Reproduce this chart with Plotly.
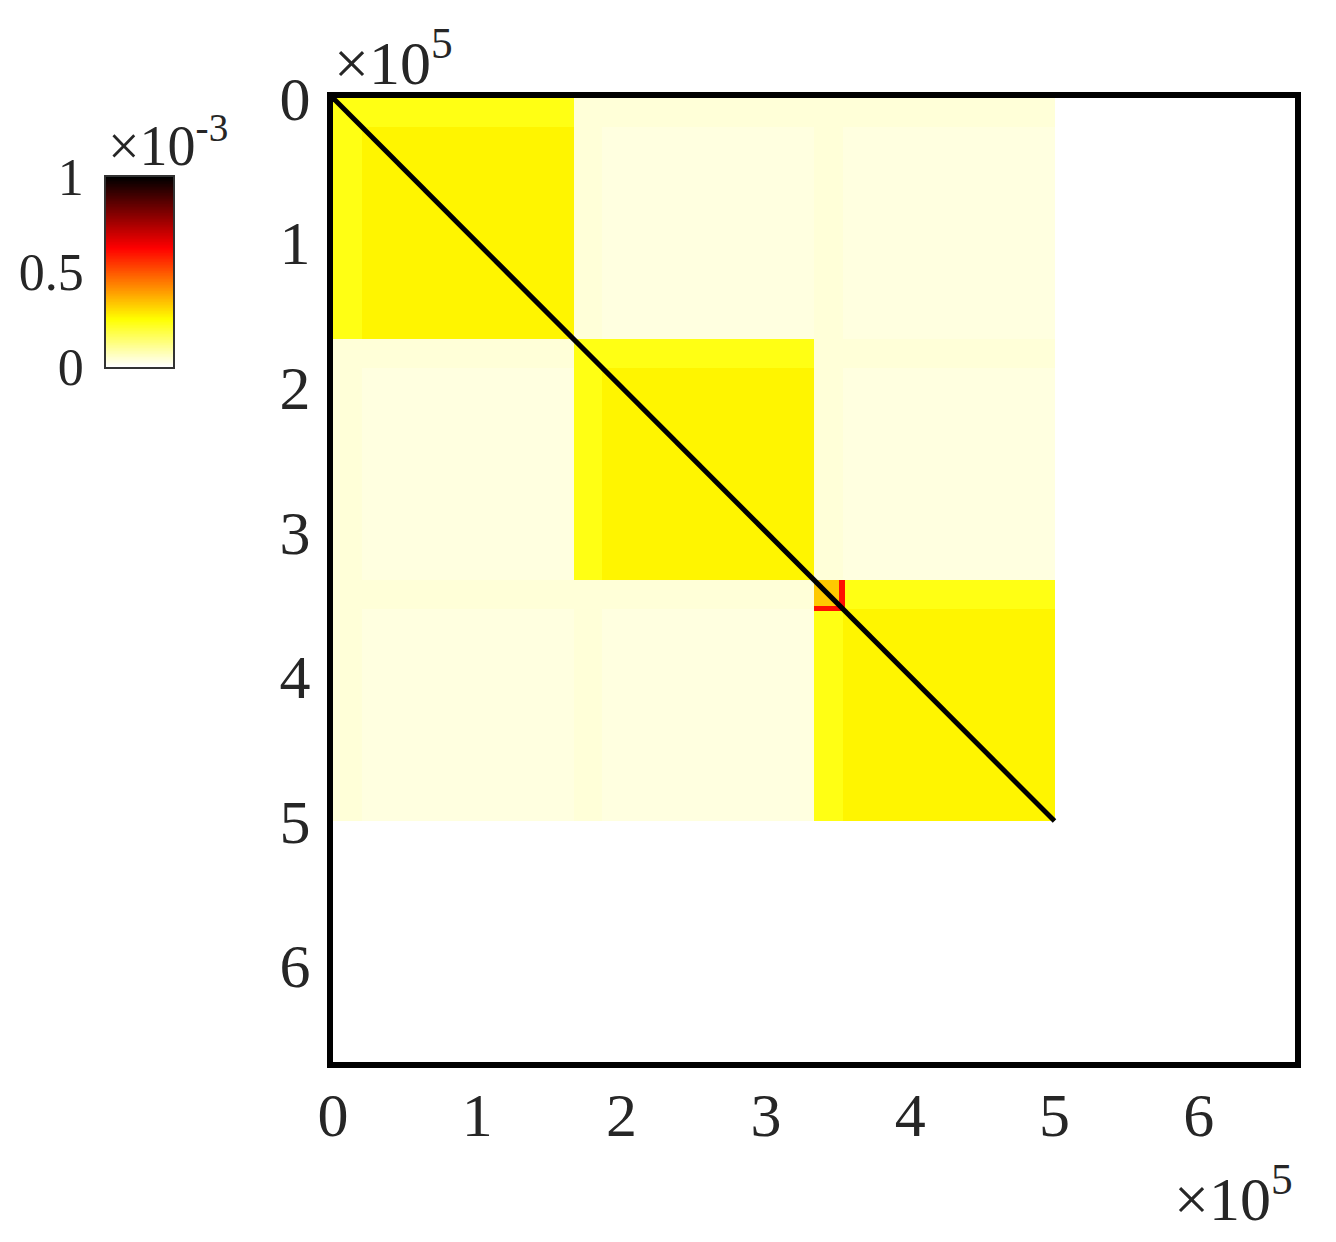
import numpy as np
import plotly.graph_objects as go

# block structure
block_starts = [0, 166667, 333333]
block_end = 500000
strip_w = 20000            # slightly lighter band at the start of every block
corner = [333333, 351000]  # mottled square at the start of block 3
red_band = [351000, 355000]

# levels (same units as the colour bar)
core_val = 0.265e-3
strip_val = 0.23e-3
off_val = 0.03e-3
off_strip_val = 0.038e-3
corner_val = 0.33e-3
red_val = 0.60e-3

diag_x = [0, 500000]
diag_y = [0, 500000]

axis_max = 666667
tick_vals = [0, 1e5, 2e5, 3e5, 4e5, 5e5, 6e5]
tick_text = ["0", "1", "2", "3", "4", "5", "6"]
cbar_vals = [0, 0.5, 1]
cbar_text = ["0", "0.5", "1"]

# build the block matrix on a non-uniform grid
edges = sorted(set(block_starts + [s + strip_w for s in block_starts] + [block_end]
                   + corner + red_band))
edges = np.array(edges, dtype=float)
centers = (edges[:-1] + edges[1:]) / 2
n = len(centers)
z = np.zeros((n, n))
for i, cy in enumerate(centers):
    for j, cx in enumerate(centers):
        by = max(k for k, s in enumerate(block_starts) if cy >= s)
        bx = max(k for k, s in enumerate(block_starts) if cx >= s)
        in_strip = cx < block_starts[bx] + strip_w or cy < block_starts[by] + strip_w
        if bx == by:
            v = strip_val if in_strip else core_val
        else:
            v = off_strip_val if in_strip else off_val
        if corner[0] <= cx < red_band[1] and corner[0] <= cy < red_band[1]:
            if red_band[0] <= cx or red_band[0] <= cy:
                v = red_val
            else:
                v = corner_val
        z[i, j] = v

hot_r = [[0, "rgb(255,255,255)"], [0.25, "rgb(255,255,0)"],
         [0.625, "rgb(255,0,0)"], [1, "rgb(0,0,0)"]]

# page body has an 8px margin, so the figure is a bit smaller than the window
OFF = 8
W, H = 1320, 1226
def px(x): return (x - OFF) / W
def py(y): return 1 - (y - OFF) / H

font = dict(family="Liberation Serif", color="#262626")

fig = go.Figure()
fig.add_trace(go.Heatmap(x=edges, y=edges, z=z, coloraxis="coloraxis",
                         zsmooth=False, hoverinfo="skip"))
fig.add_trace(go.Scatter(x=diag_x, y=diag_y, mode="lines",
                         line=dict(color="black", width=5), hoverinfo="skip"))

# colour bar drawn as its own small axes so labels sit on the left
grad = np.linspace(0, 1, 256)
grad_edges = np.linspace(0, 1, 257)
fig.add_trace(go.Heatmap(x=[0, 1], y=grad_edges,
                         z=(grad * 1e-3).reshape(-1, 1), coloraxis="coloraxis",
                         xaxis="x2", yaxis="y2", zsmooth=False, hoverinfo="skip"))

fig.update_layout(
    width=W, height=H,
    margin=dict(l=0, r=0, t=0, b=0),
    paper_bgcolor="white", plot_bgcolor="white",
    showlegend=False,
    coloraxis=dict(colorscale=hot_r, cmin=0, cmax=1e-3, showscale=False),
    xaxis=dict(domain=[px(333), px(1295)], range=[0, axis_max], automargin=False,
               tickvals=tick_vals, ticktext=tick_text, ticks="",
               showgrid=False, zeroline=False,
               showline=True, mirror=True, linecolor="black", linewidth=6,
               tickfont=dict(size=62, **font), ticklabelstandoff=-6),
    yaxis=dict(domain=[py(1062), py(98)], range=[axis_max, 0], automargin=False,
               tickvals=tick_vals, ticktext=tick_text, ticks="",
               showgrid=False, zeroline=False,
               showline=True, mirror=True, linecolor="black", linewidth=6,
               tickfont=dict(size=62, **font), ticklabelstandoff=4),
    xaxis2=dict(domain=[px(106), px(173)], range=[0, 1], anchor="y2", automargin=False,
                showticklabels=False, ticks="", showgrid=False, zeroline=False,
                showline=True, mirror=True, linecolor="#333333", linewidth=1.5),
    yaxis2=dict(domain=[py(367), py(177)], range=[0, 1], anchor="x2", automargin=False,
                tickvals=cbar_vals, ticktext=cbar_text, ticks="",
                showgrid=False, zeroline=False,
                showline=True, mirror=True, linecolor="#333333", linewidth=1.5,
                tickfont=dict(size=52, **font), ticklabelstandoff=10),
    annotations=[
        dict(text="×10<sup>5</sup>", xref="paper", yref="paper",
             x=px(332), y=py(99), xanchor="left", yanchor="bottom",
             showarrow=False, font=dict(size=62, **font)),
        dict(text="×10<sup>5</sup>", xref="paper", yref="paper",
             x=px(1172), y=py(1235), xanchor="left", yanchor="bottom",
             showarrow=False, font=dict(size=62, **font)),
        dict(text="×10<sup>-3</sup>", xref="paper", yref="paper",
             x=px(106), y=py(179), xanchor="left", yanchor="bottom",
             showarrow=False, font=dict(size=56, **font)),
    ],
)

fig.write_html("out.html")
